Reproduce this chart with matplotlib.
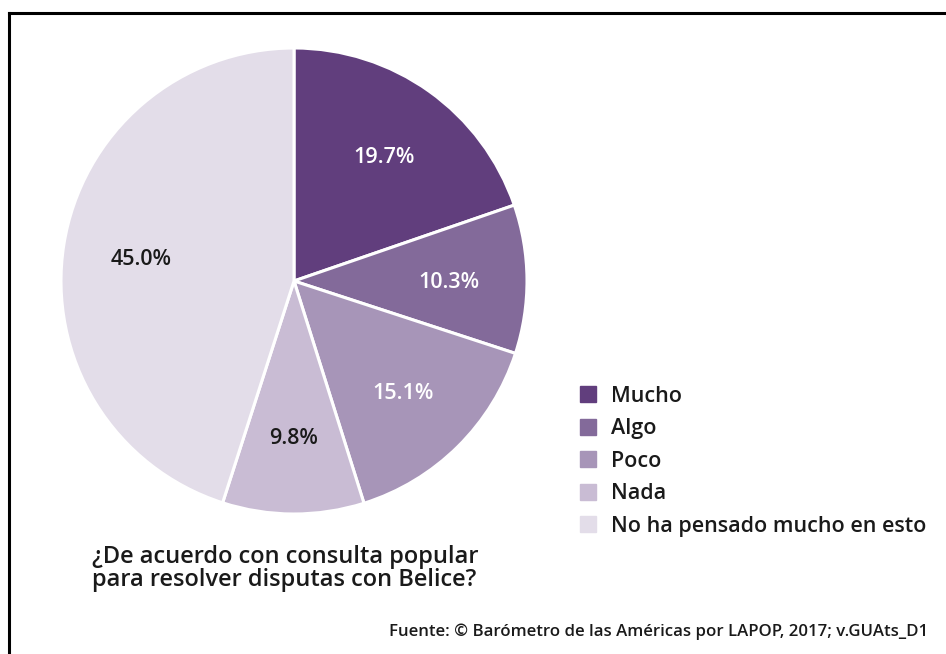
import matplotlib
matplotlib.use("Agg")
import matplotlib.pyplot as plt
from matplotlib.lines import Line2D

categories = ["Mucho", "Algo", "Poco", "Nada", "No ha pensado mucho en esto"]
values = [19.7, 10.3, 15.1, 9.8, 45.0]
colors = ["#613e7d", "#836a9a", "#a795b8", "#c9bcd4", "#e3dde9"]
label_colors = ["white", "white", "white", "#1a1a1a", "#1a1a1a"]
title_text = "¿De acuerdo con consulta popular\npara resolver disputas con Belice?"
source_text = "Fuente: © Barómetro de las Américas por LAPOP, 2017; v.GUAts_D1"

plt.rcParams['font.family'] = ['Open Sans', 'DejaVu Sans']
W, H = 946, 654
fig = plt.figure(figsize=(W / 100, H / 100), dpi=100)

cx, cy, r = 294, 281, 233
ax = fig.add_axes([(cx - r) / W, (H - cy - r) / H, 2 * r / W, 2 * r / H])
wedges, texts, autotexts = ax.pie(
    values, colors=colors, startangle=90, counterclock=False,
    autopct=lambda p: "", pctdistance=0.665,
    wedgeprops=dict(edgecolor="white", linewidth=2.2),
)
for t, v, c in zip(autotexts, values, label_colors):
    t.set_text(f"{v:.1f}%")
    t.set_color(c)
    t.set_fontsize(15.5)
    t.set_fontweight("semibold")
    x, y = t.get_position()
    t.set_position((x, y - 0.012))
ax.set_xlim(-1, 1)
ax.set_ylim(-1, 1)
ax.set_aspect("equal")
ax.axis("off")

handles = [Line2D([0], [0], marker="s", linestyle="none", markersize=11.5,
                  markerfacecolor=c, markeredgecolor=c) for c in colors]
leg = fig.legend(handles, categories, loc="upper left",
                 bbox_to_anchor=(577 / W, 1 - 386 / H), frameon=False,
                 prop=dict(size=15.5, weight="semibold"),
                 handlelength=1.0, handletextpad=0.6, labelspacing=0.53,
                 borderpad=0, borderaxespad=0)
for t in leg.get_texts():
    t.set_color("#1a1a1a")

fig.text(92 / W, 1 - 545 / H, title_text, fontsize=17, fontweight="semibold",
         color="#1a1a1a", va="top", ha="left", linespacing=0.93)
fig.text(928 / W, 1 - 632 / H, source_text, fontsize=12.1, fontweight="semibold",
         color="#1a1a1a", va="center", ha="right")

# frame lines (left and top)
fig.add_artist(Line2D([9 / W, 9 / W], [0, 1 - 13 / H], transform=fig.transFigure,
                      color="black", linewidth=2.2))
fig.add_artist(Line2D([9 / W, 1], [1 - 13 / H, 1 - 13 / H], transform=fig.transFigure,
                      color="black", linewidth=2.2))

fig.savefig("out.png", dpi=100)
